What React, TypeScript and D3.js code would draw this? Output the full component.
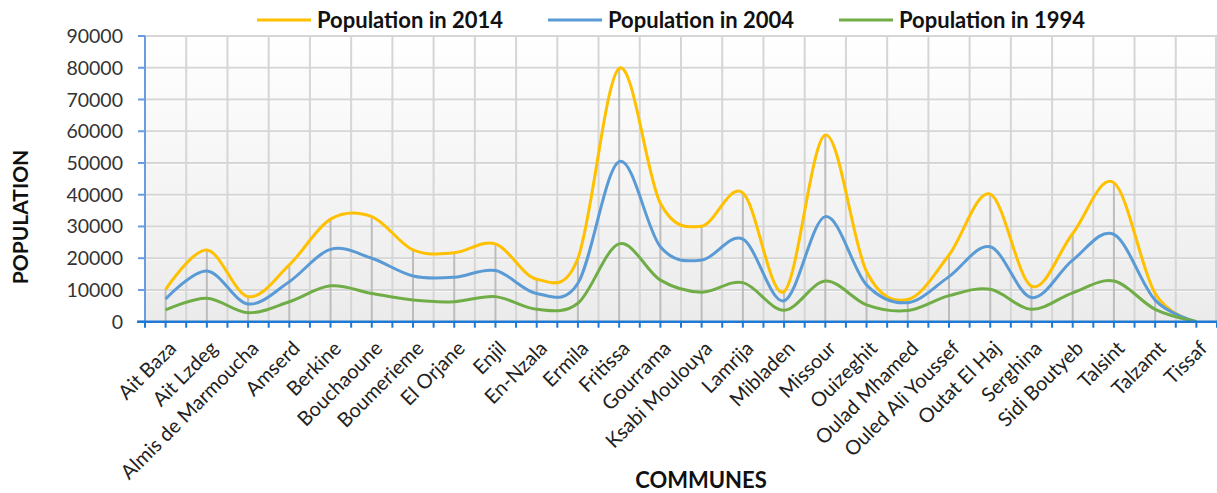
import React from "react";
import * as d3 from "d3";

// Communes of the province and their census populations
const communes = [
  "Ait Baza", "Ait Lzdeg", "Almis de Marmoucha", "Amserd", "Berkine", "Bouchaoune",
  "Boumerieme", "El Orjane", "Enjil", "En-Nzala", "Ermila", "Fritissa", "Gourrama",
  "Ksabi Moulouya", "Lamrija", "Mibladen", "Missour", "Ouizeghit", "Oulad Mhamed",
  "Ouled Ali Youssef", "Outat El Haj", "Serghina", "Sidi Boutyeb", "Talsint", "Talzamt", "Tissaf",
];

const pop2014 = [10200, 22600, 7900, 17900, 32300, 33100, 22600, 21700, 24500, 13400, 20000, 79800, 37300,
  30100, 40600, 9500, 58800, 15800, 7000, 21000, 40200, 11200, 27800, 43800, 8900, 0];
const pop2004 = [7150, 16000, 5600, 12600, 22800, 20000, 14400, 14000, 16100, 8900, 12100, 50400, 23600,
  19400, 26000, 6600, 33100, 11600, 6000, 14200, 23600, 7600, 19400, 27500, 6800, 0];
const pop1994 = [3700, 7400, 2800, 6300, 11300, 8900, 6800, 6300, 7900, 3900, 5800, 24500, 13100,
  9300, 12300, 3600, 12800, 5300, 3500, 8200, 10200, 3900, 9100, 12800, 3900, 0];

const yTicks = [0, 10000, 20000, 30000, 40000, 50000, 60000, 70000, 80000, 90000];

const seriesNames = ["Population in 2014", "Population in 2004", "Population in 1994"];
const seriesColors = ["#FFC000", "#5B9BD5", "#70AD47"];

const W = 1217;
const H = 493;
const left = 145;
const right = 1217;
const top = 36;
const bottom = 321.7;

const FONT = "Lato, 'Open Sans', sans-serif";

export default function App() {
  const x = d3.scaleBand<string>().domain(communes).range([left, right]).padding(0);
  const bw = x.bandwidth();
  const cx = (c: string) => (x(c) as number) + bw / 2;
  const y = d3.scaleLinear().domain([0, 90000]).range([bottom, top]);

  const series = [pop2014, pop2004, pop1994];
  const line = d3
    .line<number>()
    .x((_, i) => cx(communes[i]))
    .y((v) => y(v))
    .curve(d3.curveCardinal.tension(0));

  // tick marks at category centres and boundaries
  const xTickPos: number[] = [];
  communes.forEach((c) => {
    xTickPos.push(x(c) as number);
    xTickPos.push(cx(c));
  });
  xTickPos.push(right);

  const legendX = [257, 548, 839];

  return (
    <svg
      width={W}
      height={H}
      style={{ position: "absolute", left: 0, top: 0, background: "#fff" }}
      fontFamily={FONT}
    >
      <defs>
        <linearGradient id="plotBg" x1="0" y1="0" x2="0" y2="1">
          <stop offset="0" stopColor="#ffffff" />
          <stop offset="1" stopColor="#ebebeb" />
        </linearGradient>
      </defs>

      <rect x={left} y={top} width={right - left} height={bottom - top} fill="url(#plotBg)" />

      {/* horizontal gridlines */}
      {yTicks.slice(1).map((t) => (
        <g key={"h" + t}>
          <line x1={left} x2={right} y1={y(t)} y2={y(t)} stroke="#d6d6d6" strokeWidth={2} />
          <line x1={left} x2={right} y1={y(t) + 1.5} y2={y(t) + 1.5} stroke="#ffffff" strokeOpacity={0.7} strokeWidth={1} />
        </g>
      ))}
      {/* vertical gridlines on category boundaries */}
      {communes.slice(1).map((c) => (
        <line key={"v" + c} x1={x(c)} x2={x(c)} y1={top} y2={bottom} stroke="#d6d6d6" strokeWidth={2} />
      ))}
      <line x1={right - 1} x2={right - 1} y1={top} y2={bottom} stroke="#d6d6d6" strokeWidth={2} />

      {/* drop lines from the highest series */}
      {communes.map((c, i) => (
        <line key={"d" + c} x1={cx(c)} x2={cx(c)} y1={y(pop2014[i])} y2={bottom} stroke="#bdbdbd" strokeWidth={2} />
      ))}

      {/* series lines */}
      {series.map((s, k) => (
        <path key={seriesNames[k]} d={line(s) as string} fill="none" stroke={seriesColors[k]} strokeWidth={3} strokeLinejoin="round" />
      ))}

      {/* y axis */}
      <line x1={left} x2={left} y1={top} y2={bottom} stroke="#6b9be0" strokeWidth={2} />
      {yTicks.map((t) => (
        <g key={"yt" + t}>
          <line x1={left - 7} x2={left} y1={y(t)} y2={y(t)} stroke="#6b9be0" strokeWidth={2} />
          <text x={123} y={y(t)} dy="0.36em" textAnchor="end" fontSize={19.5} fill="#333">
            {t}
          </text>
        </g>
      ))}

      {/* x axis */}
      <line x1={left - 8} x2={right} y1={bottom} y2={bottom} stroke="#1f78d1" strokeWidth={2.5} />
      {xTickPos.map((p, i) => (
        <line key={"xt" + i} x1={p} x2={p} y1={bottom} y2={bottom + 6} stroke="#1f78d1" strokeWidth={2} />
      ))}
      {communes.map((c) => (
        <text
          key={"xl" + c}
          transform={`translate(${cx(c) + 7},${bottom + 23}) rotate(-45)`}
          textAnchor="end"
          dy="0.35em"
          fontSize={20}
          fill="#222"
        >
          {c}
        </text>
      ))}

      {/* axis titles */}
      <text transform={`translate(28,217) rotate(-90)`} textAnchor="middle" fontSize={21} fontWeight="bold" fill="#111">
        POPULATION
      </text>
      <text x={701} y={488} textAnchor="middle" fontSize={22} fontWeight="bold" fill="#111">
        COMMUNES
      </text>

      {/* legend */}
      {seriesNames.map((n, k) => (
        <g key={"lg" + n}>
          <line x1={legendX[k]} x2={legendX[k] + 54} y1={20} y2={20} stroke={seriesColors[k]} strokeWidth={3} />
          <text x={legendX[k] + 60} y={27.5} fontSize={22} fontWeight="bold" fill="#111">
            {n}
          </text>
        </g>
      ))}
    </svg>
  );
}
